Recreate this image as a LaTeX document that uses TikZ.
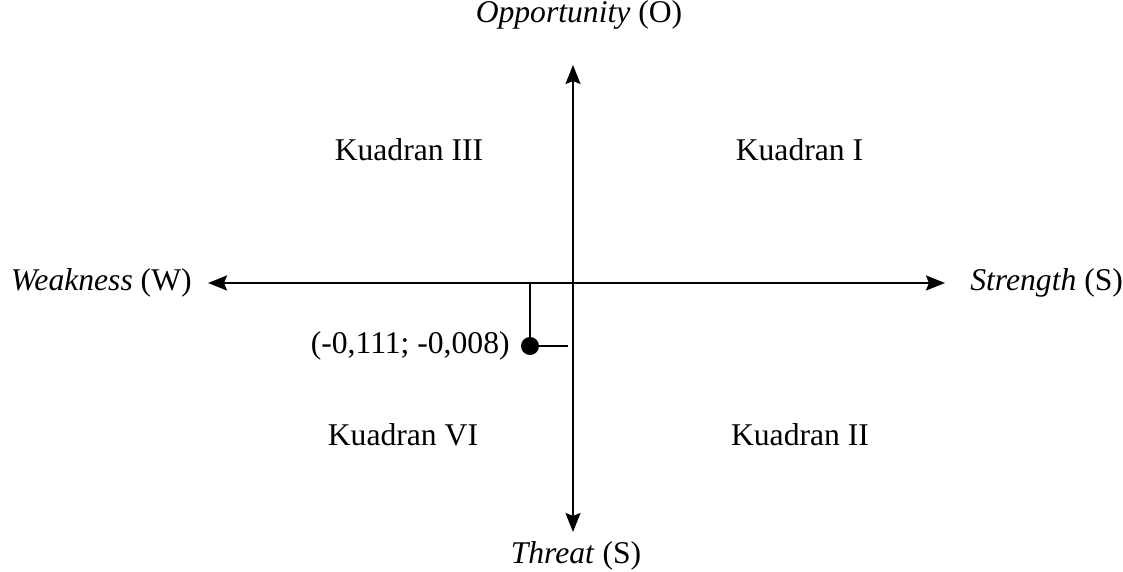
\documentclass[tikz,border=0pt]{standalone}
\usepackage{fontspec}
\setmainfont{Liberation Serif}
\usetikzlibrary{arrows.meta,positioning}
\tikzset{
  axisline/.style={line width=1.1pt,-{Stealth[length=0.38cm,width=0.3cm,inset=0.06cm]}},
  guide/.style={line width=1.1pt},
  quadlabel/.style={inner sep=0pt}
}
\begin{document}
\begin{tikzpicture}[font=\fontsize{18}{21}\selectfont]
  \useasboundingbox (-11.46,5.66) rectangle (11.0,-5.78);
  \coordinate (o) at (0,0);
  \coordinate (top) at (0,4.36);
  \coordinate (bot) at (0,-4.98);
  \coordinate (lft) at (-7.30,0);
  \coordinate (rgt) at (7.44,0);
  \draw[axisline] (o) -- (top);
  \draw[axisline] (o) -- (bot);
  \draw[axisline] (o) -- (lft);
  \draw[axisline] (o) -- (rgt);
  \node[quadlabel] (opp) at (0.12,5.36) {\textit{Opportunity} (O)};
  \node[quadlabel] (thr) at (0.06,-5.46) {\textit{Threat} (S)};
  \node[quadlabel,anchor=east] (weak) at (-7.62,0) {\textit{Weakness} (W)};
  \node[quadlabel,anchor=west] (str) at (7.94,0) {\textit{Strength} (S)};
  \node[quadlabel] (q3) at (-3.28,2.66) {Kuadran III};
  \node[quadlabel] (q1) at (4.53,2.66) {Kuadran I};
  \node[quadlabel] (q6) at (-3.4,-3.04) {Kuadran VI};
  \node[quadlabel] (q2) at (4.54,-3.04) {Kuadran II};
  % titik posisi
  \coordinate (pt) at (-0.86,-1.26);
  \coordinate (ptx) at (-0.86,0);
  \coordinate (pty) at (-0.1,-1.26);
  \draw[guide] (ptx) -- (pt) -- (pty);
  \fill (pt) circle (0.18);
  \node[quadlabel,anchor=east] (ptlabel) at (-1.26,-1.26) {(-0,111; -0,008)};
\end{tikzpicture}
\end{document}
